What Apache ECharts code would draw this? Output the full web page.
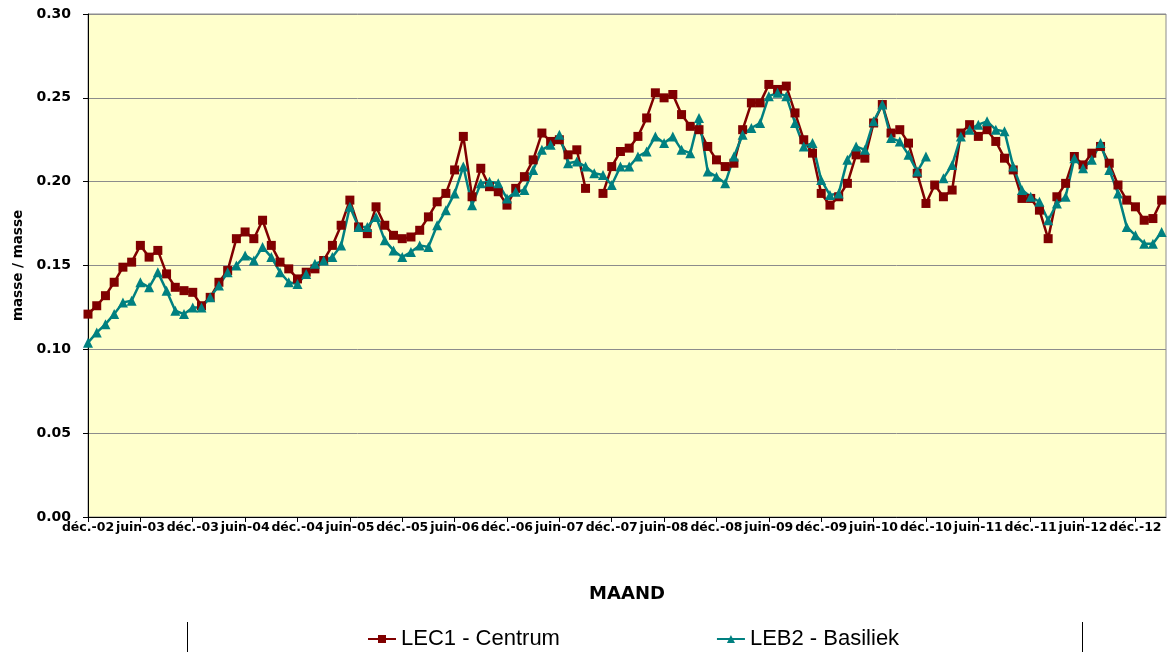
<!DOCTYPE html>
<html>
<head>
<meta charset="utf-8">
<script src="https://cdn.jsdelivr.net/npm/echarts@6/dist/echarts.min.js"></script>
<style>
  html, body { margin: 0; padding: 0; background: #fff; }
  #chart { width: 1173px; height: 652px; }
</style>
</head>
<body>
<div id="chart"></div>
<script>
// one label every 6 months, starting at déc.-02 (month index 0)
const tickLabels = ['déc.-02', 'juin-03', 'déc.-03', 'juin-04', 'déc.-04', 'juin-05', 'déc.-05',
  'juin-06', 'déc.-06', 'juin-07', 'déc.-07', 'juin-08', 'déc.-08', 'juin-09', 'déc.-09',
  'juin-10', 'déc.-10', 'juin-11', 'déc.-11', 'juin-12', 'déc.-12'];
const monthsPerTick = 6;

// monthly values, déc.-02 .. mars-13 (null = no measurement)
const lec1 = [
  0.121, 0.126, 0.132, 0.140, 0.149, 0.152, 0.162, 0.155, 0.159, 0.145, 0.137, 0.135,
  0.134, 0.126, 0.131, 0.140, 0.147, 0.166, 0.170, 0.166, 0.177, 0.162, 0.152, 0.148,
  0.142, 0.146, 0.148, 0.153, 0.162, 0.174, 0.189, 0.173, 0.169, 0.185, 0.174, 0.168,
  0.166, 0.167, 0.171, 0.179, 0.188, 0.193, 0.207, 0.227, 0.191, 0.208, 0.197, 0.194,
  0.186, 0.196, 0.203, 0.213, 0.229, 0.224, 0.225, 0.216, 0.219, 0.196, null, 0.193,
  0.209, 0.218, 0.220, 0.227, 0.238, 0.253, 0.250, 0.252, 0.240, 0.233, 0.231, 0.221,
  0.213, 0.209, 0.211, 0.231, 0.247, 0.247, 0.258, 0.255, 0.257, 0.241, 0.225, 0.217,
  0.193, 0.186, 0.191, 0.199, 0.216, 0.214, 0.235, 0.246, 0.229, 0.231, 0.223, 0.205,
  0.187, 0.198, 0.191, 0.195, 0.229, 0.234, 0.227, 0.231, 0.224, 0.214, 0.207, 0.190,
  0.190, 0.183, 0.166, 0.191, 0.199, 0.215, 0.210, 0.217, 0.221, 0.211, 0.198, 0.189,
  0.185, 0.177, 0.178, 0.189
];
const leb2 = [
  0.104, 0.110, 0.115, 0.121, 0.128, 0.129, 0.140, 0.137, 0.146, 0.135, 0.123, 0.121,
  0.125, 0.125, 0.131, 0.138, 0.146, 0.150, 0.156, 0.153, 0.161, 0.155, 0.146, 0.140,
  0.139, 0.145, 0.151, 0.153, 0.155, 0.162, 0.185, 0.173, 0.173, 0.179, 0.165, 0.159,
  0.155, 0.158, 0.162, 0.161, 0.174, 0.183, 0.193, 0.209, 0.186, 0.199, 0.200, 0.199,
  0.190, 0.194, 0.195, 0.207, 0.219, 0.222, 0.228, 0.211, 0.212, 0.209, 0.205, 0.204,
  0.198, 0.209, 0.209, 0.215, 0.218, 0.227, 0.223, 0.227, 0.219, 0.217, 0.238, 0.206,
  0.203, 0.199, 0.215, 0.228, 0.232, 0.235, 0.251, 0.253, 0.251, 0.235, 0.221, 0.223,
  0.201, 0.192, 0.193, 0.213, 0.221, 0.219, 0.236, 0.246, 0.226, 0.224, 0.216, 0.206,
  0.215, null, 0.202, 0.210, 0.227, 0.231, 0.234, 0.236, 0.231, 0.230, 0.209, 0.195,
  0.191, 0.188, 0.177, 0.187, 0.191, 0.214, 0.208, 0.213, 0.223, 0.207, 0.193, 0.173,
  0.168, 0.163, 0.163, 0.170
];

const toPoints = arr => arr.map((v, i) => [i, v == null ? '-' : v]);

const chart = echarts.init(document.getElementById('chart'));
chart.setOption({
  animation: false,
  backgroundColor: '#fff',
  grid: {
    left: 88, top: 14, right: 7, bottom: 135,
    show: true, backgroundColor: '#FFFFCC', borderColor: '#8c8c8c', borderWidth: 1
  },
  legend: {
    left: 362, top: 623,
    itemWidth: 28, itemHeight: 10, itemGap: 156,
    textStyle: { fontFamily: 'Liberation Sans', fontSize: 22, color: '#000' },
    data: ['LEC1 - Centrum', 'LEB2 - Basiliek']
  },
  xAxis: {
    type: 'value', min: 0, max: 123.5, interval: monthsPerTick,
    name: 'MAAND', nameLocation: 'middle', nameGap: 68,
    nameTextStyle: { fontFamily: 'DejaVu Sans', fontWeight: 'bold', fontSize: 18, color: '#000' },
    axisLine: { show: true, lineStyle: { color: '#000', width: 1 } },
    axisTick: { show: true, length: 5, lineStyle: { color: '#000' } },
    splitLine: { show: false },
    axisLabel: {
      margin: 4, color: '#000', showMinLabel: true, showMaxLabel: false,
      fontFamily: 'DejaVu Sans', fontWeight: 'bold', fontSize: 12.5,
      formatter: v => (v % monthsPerTick === 0 ? (tickLabels[v / monthsPerTick] || '') : '')
    }
  },
  yAxis: {
    type: 'value', min: 0, max: 0.3, interval: 0.05,
    name: 'masse / masse', nameLocation: 'middle', nameGap: 63,
    nameTextStyle: { fontFamily: 'DejaVu Sans', fontWeight: 'bold', fontSize: 13.5, color: '#000' },
    axisLine: { show: true, lineStyle: { color: '#000', width: 1 } },
    axisTick: { show: true, length: 5, lineStyle: { color: '#000' } },
    splitLine: { show: true, lineStyle: { color: '#8c8c8c', width: 1 } },
    axisLabel: {
      margin: 17, color: '#000',
      fontFamily: 'DejaVu Sans', fontWeight: 'bold', fontSize: 14,
      formatter: v => v.toFixed(2)
    }
  },
  series: [
    {
      name: 'LEC1 - Centrum', type: 'line',
      data: toPoints(lec1),
      symbol: 'rect', symbolSize: 9,
      lineStyle: { color: '#800000', width: 2.5 },
      itemStyle: { color: '#800000' }
    },
    {
      name: 'LEB2 - Basiliek', type: 'line',
      data: toPoints(leb2),
      symbol: 'triangle', symbolSize: 10,
      lineStyle: { color: '#008080', width: 2.5 },
      itemStyle: { color: '#008080' }
    }
  ],
  graphic: [
    { type: 'line', shape: { x1: 187.5, y1: 622, x2: 187.5, y2: 652 }, style: { stroke: '#000', lineWidth: 1 } },
    { type: 'line', shape: { x1: 1082.5, y1: 622, x2: 1082.5, y2: 652 }, style: { stroke: '#000', lineWidth: 1 } }
  ]
});
</script>
</body>
</html>
